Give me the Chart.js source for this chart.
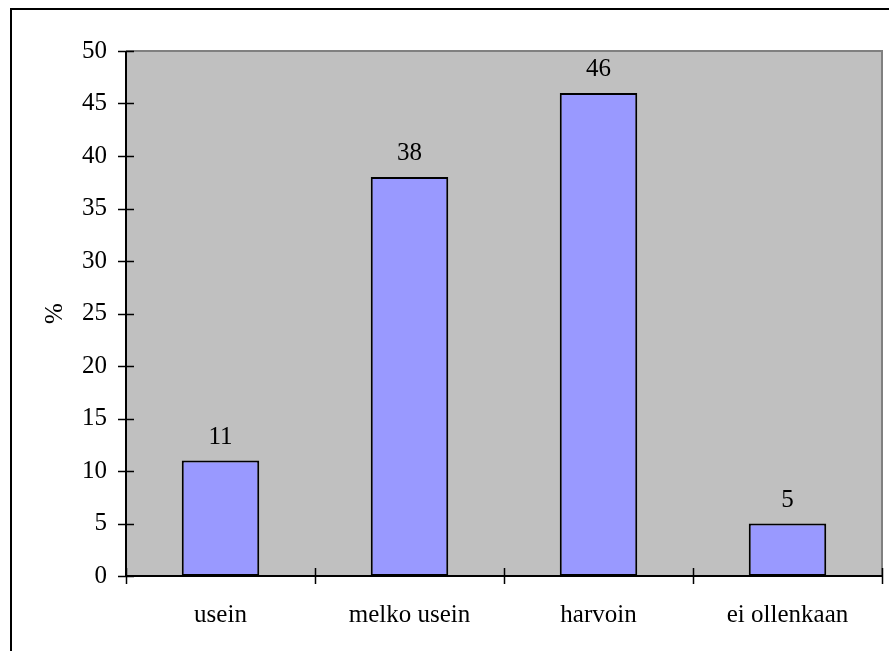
<!DOCTYPE html>
<html lang="fi">
<head>
<meta charset="UTF-8">
<title>Kuvio</title>
<script src="https://cdn.jsdelivr.net/npm/chart.js"></script>
<style>
  html, body { margin: 0; padding: 0; background: #fff; }
  canvas { display: block; }
</style>
</head>
<body>
<canvas id="kuvio" width="889" height="651"></canvas>
<script>
  const categories = ['usein', 'melko usein', 'harvoin', 'ei ollenkaan'];
  const values = [11, 38, 46, 5];
  const yMin = 0;
  const yMax = 50;
  const yStep = 5;

  const serif = "'Liberation Serif', 'Times New Roman', serif";
  const fontSize = 25;

  // white page, frame line, grey plot background
  const backdrop = {
    id: 'backdrop',
    beforeDraw(chart) {
      const ctx = chart.ctx;
      const a = chart.chartArea;
      ctx.save();
      ctx.fillStyle = '#ffffff';
      ctx.fillRect(0, 0, chart.width, chart.height);
      ctx.strokeStyle = '#000000';
      ctx.lineWidth = 2;
      ctx.beginPath();
      ctx.moveTo(11, chart.height + 5);
      ctx.lineTo(11, 9);
      ctx.lineTo(chart.width + 5, 9);
      ctx.stroke();
      ctx.fillStyle = '#c0c0c0';
      ctx.fillRect(a.left, a.top, a.right - a.left, a.bottom - a.top);
      ctx.strokeStyle = '#808080';
      ctx.lineWidth = 2;
      ctx.beginPath();
      ctx.moveTo(a.left, a.top);
      ctx.lineTo(a.right, a.top);
      ctx.lineTo(a.right, a.bottom);
      ctx.stroke();
      ctx.restore();
    }
  };

  // axis lines, crossing tick marks and value labels
  const axesAndLabels = {
    id: 'axesAndLabels',
    afterDatasetsDraw(chart) {
      const ctx = chart.ctx;
      const a = chart.chartArea;
      const x = chart.scales.x;
      const y = chart.scales.y;
      ctx.save();
      ctx.strokeStyle = '#000000';
      ctx.lineWidth = 1.5;
      ctx.beginPath();
      for (let v = yMin; v <= yMax; v += yStep) {
        const py = Math.round(y.getPixelForValue(v)) + 0.5;
        ctx.moveTo(a.left - 8, py);
        ctx.lineTo(a.left + 8, py);
      }
      const half = (x.getPixelForValue(1) - x.getPixelForValue(0)) / 2;
      for (let i = 0; i <= categories.length; i++) {
        const px = Math.round(x.getPixelForValue(i) - half) + 0.5;
        ctx.moveTo(px, a.bottom - 8);
        ctx.lineTo(px, a.bottom + 8);
      }
      ctx.stroke();

      ctx.lineWidth = 2;
      ctx.beginPath();
      ctx.moveTo(a.left, a.top);
      ctx.lineTo(a.left, a.bottom);
      ctx.lineTo(a.right, a.bottom);
      ctx.stroke();

      ctx.fillStyle = '#000000';
      ctx.font = fontSize + 'px ' + serif;
      ctx.textAlign = 'center';
      ctx.textBaseline = 'alphabetic';
      chart.getDatasetMeta(0).data.forEach((bar, i) => {
        ctx.fillText(String(values[i]), bar.x, bar.y - 17);
      });
      ctx.restore();
    }
  };

  new Chart(document.getElementById('kuvio'), {
    type: 'bar',
    data: {
      labels: categories,
      datasets: [{
        data: values,
        backgroundColor: '#9999ff',
        borderColor: '#000000',
        borderWidth: 2,
        borderSkipped: false,
        barPercentage: 0.41,
        categoryPercentage: 1
      }]
    },
    options: {
      responsive: false,
      animation: false,
      layout: { padding: { top: 51, right: 7, left: 0, bottom: 0 } },
      plugins: {
        legend: { display: false },
        tooltip: { enabled: false }
      },
      scales: {
        x: {
          grid: { display: false, drawTicks: false },
          border: { display: false },
          ticks: {
            color: '#000000',
            padding: 24,
            font: { family: serif, size: fontSize }
          },
          afterFit(scale) { scale.height = 75; }
        },
        y: {
          min: yMin,
          max: yMax,
          grid: { display: false, drawTicks: false },
          border: { display: false },
          ticks: {
            stepSize: yStep,
            color: '#000000',
            padding: 19,
            font: { family: serif, size: fontSize }
          },
          title: {
            display: true,
            text: '%',
            color: '#000000',
            padding: { top: 40, bottom: 0 },
            font: { family: serif, size: fontSize }
          },
          afterFit(scale) { scale.width = 126; }
        }
      }
    },
    plugins: [backdrop, axesAndLabels]
  });
</script>
</body>
</html>
